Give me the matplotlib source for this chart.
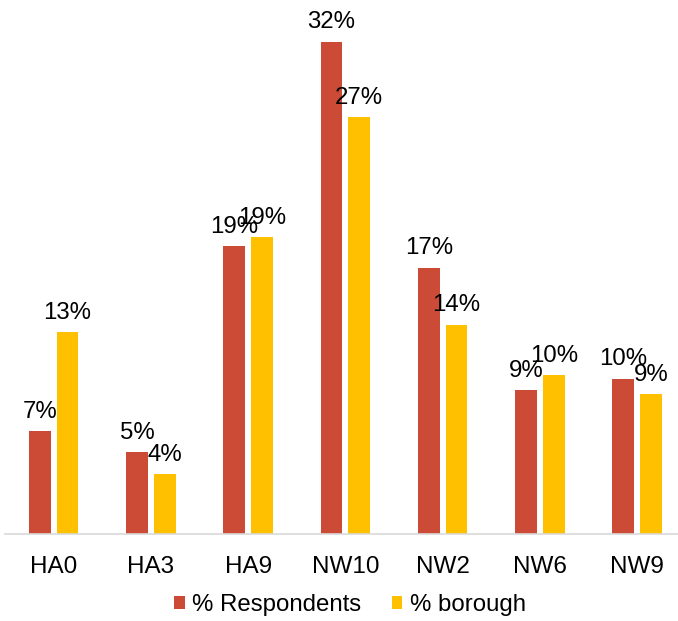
import numpy as np
import matplotlib
matplotlib.use('Agg')
import matplotlib.pyplot as plt

plt.rcParams['font.family'] = ['Liberation Sans', 'DejaVu Sans']

# valores
categorias = ['HA0', 'HA3', 'HA9', 'NW10', 'NW2', 'NW6', 'NW9']
respondentes = [6.7, 5.3, 18.7, 32.0, 17.3, 9.35, 10.1]
borough = [13.1, 3.9, 19.3, 27.1, 13.6, 10.3, 9.1]

cor_resp = '#CC4B37'
cor_bor = '#FFC000'

fig = plt.figure(figsize=(6.78, 6.21), dpi=100)
ax = fig.add_axes([5 / 678, 87 / 621, 673 / 678, 534 / 621])

x = np.arange(len(categorias))
w = 0.225
off = 0.143
b1 = ax.bar(x - off, respondentes, w, color=cor_resp, label='% Respondents')
b2 = ax.bar(x + off, borough, w, color=cor_bor, label='% borough')

for barras, vals in [(b1, respondentes), (b2, borough)]:
    for b, v in zip(barras, vals):
        ax.annotate('{0:.0f}%'.format(v), (b.get_x() + b.get_width() / 2, v),
                    xytext=(0, 6), textcoords='offset points',
                    ha='center', va='bottom', fontsize=17.3, color='#000000')

ax.set_xlim(-0.5, 6.42)
ax.set_ylim(0, 34.7)
ax.set_xticks(x)
ax.set_xticklabels(categorias, fontsize=17.5)
ax.tick_params(axis='x', length=0, pad=16)
ax.set_yticks([])
for s in ['top', 'right', 'left']:
    ax.spines[s].set_visible(False)
ax.spines['bottom'].set_color('#D9D9D9')
ax.spines['bottom'].set_linewidth(1.2)

fig.legend(handles=[b1, b2], loc='center', bbox_to_anchor=(350 / 678, 1 - 605 / 621),
           ncol=2, frameon=False, fontsize=17.3, handlelength=0.45, handleheight=0.45,
           handletextpad=0.3, columnspacing=1.25)

fig.savefig('out.png', dpi=100)
